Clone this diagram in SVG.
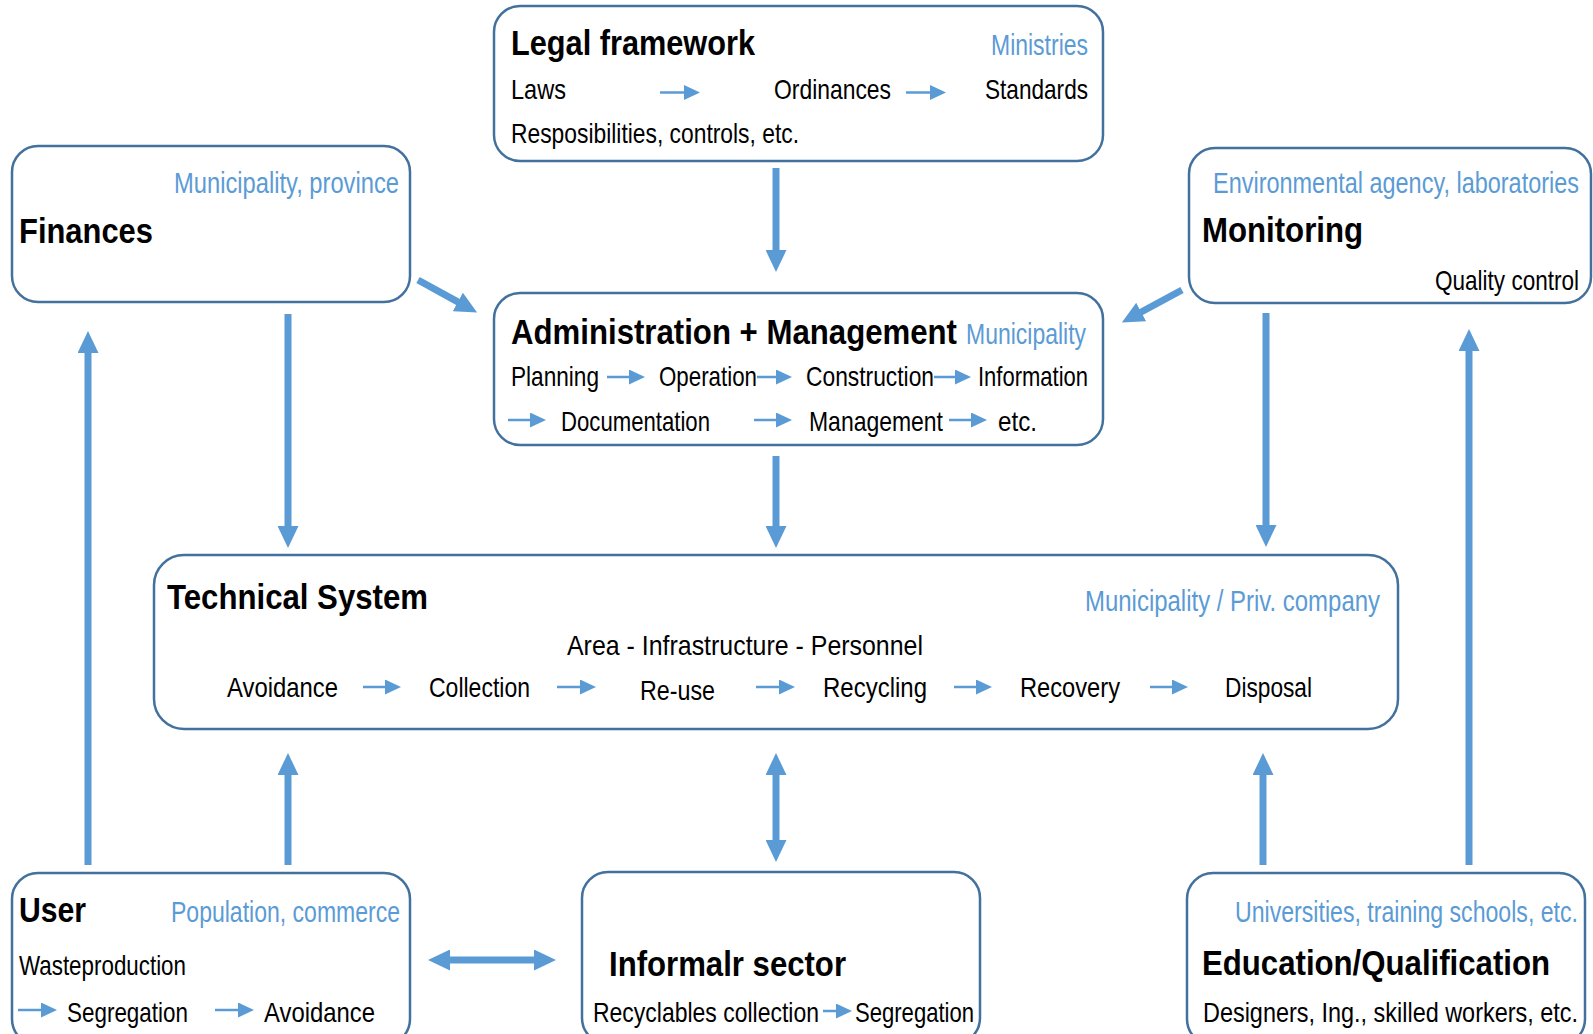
<svg xmlns="http://www.w3.org/2000/svg" width="1593" height="1034" viewBox="0 0 1593 1034">
<style>
.box{fill:#fff;stroke:#41719C;stroke-width:2.5}
.t{font-family:"Liberation Sans",Arial,sans-serif;font-weight:bold;font-size:35px;fill:#000}
.b{font-family:"Liberation Sans",Arial,sans-serif;font-size:28px;fill:#000}
.o{font-family:"Liberation Sans",Arial,sans-serif;font-size:29px;fill:#5B9BD5}
.e{text-anchor:end}
.c{stroke:#5B9BD5;stroke-width:7;fill:none}
.s{stroke:#5B9BD5;stroke-width:2.5;fill:none}
</style>
<defs>
<marker id="ah" viewBox="0 0 22 21" refX="1" refY="10.5" markerWidth="22" markerHeight="21" markerUnits="userSpaceOnUse" orient="auto-start-reverse">
<path d="M0,0 L22,10.5 L0,21 Z" fill="#5B9BD5"/>
</marker>
<marker id="sa" viewBox="0 0 16 15" refX="1" refY="7.5" markerWidth="16" markerHeight="15" markerUnits="userSpaceOnUse" orient="auto">
<path d="M0,0 L16,7.5 L0,15 Z" fill="#5B9BD5"/>
</marker>
</defs>
<rect width="1593" height="1034" fill="#fff"/>

<g id="connectors">
<line class="c" x1="776" y1="168" x2="776" y2="251" marker-end="url(#ah)"/>
<line class="c" x1="418" y1="280" x2="458.7" y2="302.4" marker-end="url(#ah)"/>
<line class="c" x1="1182" y1="290" x2="1140.3" y2="312.5" marker-end="url(#ah)"/>
<line class="c" x1="288" y1="314" x2="288" y2="527" marker-end="url(#ah)"/>
<line class="c" x1="776" y1="456" x2="776" y2="527" marker-end="url(#ah)"/>
<line class="c" x1="1266" y1="313" x2="1266" y2="526" marker-end="url(#ah)"/>
<line class="c" x1="88" y1="865" x2="88" y2="352" marker-end="url(#ah)"/>
<line class="c" x1="288" y1="865" x2="288" y2="774" marker-end="url(#ah)"/>
<line class="c" x1="776" y1="774" x2="776" y2="841" marker-start="url(#ah)" marker-end="url(#ah)"/>
<line class="c" x1="1263" y1="865" x2="1263" y2="774" marker-end="url(#ah)"/>
<line class="c" x1="1469" y1="865" x2="1469" y2="350" marker-end="url(#ah)"/>
<line class="c" x1="449" y1="960" x2="535" y2="960" marker-start="url(#ah)" marker-end="url(#ah)"/>
</g>

<g id="legal">
<rect class="box" x="494" y="6" width="609" height="155" rx="26"/>
<text class="t" x="511" y="55" textLength="244" lengthAdjust="spacingAndGlyphs">Legal framework</text>
<text class="o e" x="1088" y="55" textLength="97" lengthAdjust="spacingAndGlyphs">Ministries</text>
<text class="b" x="511" y="99" textLength="55" lengthAdjust="spacingAndGlyphs">Laws</text>
<text class="b" x="774" y="99" textLength="117" lengthAdjust="spacingAndGlyphs">Ordinances</text>
<text class="b e" x="1088" y="99" textLength="103" lengthAdjust="spacingAndGlyphs">Standards</text>
<text class="b" x="511" y="143" textLength="288" lengthAdjust="spacingAndGlyphs">Resposibilities, controls, etc.</text>
<line class="s" x1="660" y1="92.5" x2="685" y2="92.5" marker-end="url(#sa)"/>
<line class="s" x1="906" y1="92.5" x2="931" y2="92.5" marker-end="url(#sa)"/>
</g>

<g id="finances">
<rect class="box" x="12" y="146" width="398" height="156" rx="26"/>
<text class="o e" x="399" y="193" textLength="225" lengthAdjust="spacingAndGlyphs">Municipality, province</text>
<text class="t" x="19" y="243" textLength="134" lengthAdjust="spacingAndGlyphs">Finances</text>
</g>

<g id="monitoring">
<rect class="box" x="1189" y="148" width="402" height="155" rx="26"/>
<text class="o e" x="1579" y="193" textLength="366" lengthAdjust="spacingAndGlyphs">Environmental agency,  laboratories</text>
<text class="t" x="1202" y="242" textLength="161" lengthAdjust="spacingAndGlyphs">Monitoring</text>
<text class="b e" x="1579" y="290" textLength="144" lengthAdjust="spacingAndGlyphs">Quality control</text>
</g>

<g id="admin">
<rect class="box" x="494" y="293" width="609" height="152" rx="26"/>
<text class="t" x="511" y="344" textLength="446" lengthAdjust="spacingAndGlyphs">Administration + Management</text>
<text class="o e" x="1086" y="344" textLength="120" lengthAdjust="spacingAndGlyphs">Municipality</text>
<text class="b" x="511" y="386" textLength="88" lengthAdjust="spacingAndGlyphs">Planning</text>
<text class="b" x="659" y="386" textLength="98" lengthAdjust="spacingAndGlyphs">Operation</text>
<text class="b" x="806" y="386" textLength="128" lengthAdjust="spacingAndGlyphs">Construction</text>
<text class="b e" x="1088" y="386" textLength="110" lengthAdjust="spacingAndGlyphs">Information</text>
<line class="s" x1="607" y1="377" x2="630" y2="377" marker-end="url(#sa)"/>
<line class="s" x1="757" y1="377" x2="777" y2="377" marker-end="url(#sa)"/>
<line class="s" x1="934" y1="377" x2="956" y2="377" marker-end="url(#sa)"/>
<text class="b" x="561" y="431" textLength="149" lengthAdjust="spacingAndGlyphs">Documentation</text>
<text class="b" x="809" y="431" textLength="134" lengthAdjust="spacingAndGlyphs">Management</text>
<text class="b" x="998" y="431" textLength="39" lengthAdjust="spacingAndGlyphs">etc.</text>
<line class="s" x1="508" y1="420" x2="531" y2="420" marker-end="url(#sa)"/>
<line class="s" x1="754" y1="420" x2="777" y2="420" marker-end="url(#sa)"/>
<line class="s" x1="949" y1="420" x2="972" y2="420" marker-end="url(#sa)"/>
</g>

<g id="technical">
<rect class="box" x="154" y="555" width="1244" height="174" rx="30"/>
<text class="t" x="167" y="609" textLength="261" lengthAdjust="spacingAndGlyphs">Technical System</text>
<text class="o e" x="1380" y="611" textLength="295" lengthAdjust="spacingAndGlyphs">Municipality / Priv. company</text>
<text class="b" x="567" y="655" textLength="356" lengthAdjust="spacingAndGlyphs">Area  -  Infrastructure  -  Personnel</text>
<text class="b" x="227" y="697" textLength="111" lengthAdjust="spacingAndGlyphs">Avoidance</text>
<text class="b" x="429" y="697" textLength="101" lengthAdjust="spacingAndGlyphs">Collection</text>
<text class="b" x="640" y="700" textLength="75" lengthAdjust="spacingAndGlyphs">Re-use</text>
<text class="b" x="823" y="697" textLength="104" lengthAdjust="spacingAndGlyphs">Recycling</text>
<text class="b" x="1020" y="697" textLength="100" lengthAdjust="spacingAndGlyphs">Recovery</text>
<text class="b" x="1225" y="697" textLength="87" lengthAdjust="spacingAndGlyphs">Disposal</text>
<line class="s" x1="363" y1="687" x2="386" y2="687" marker-end="url(#sa)"/>
<line class="s" x1="557" y1="687" x2="581" y2="687" marker-end="url(#sa)"/>
<line class="s" x1="756" y1="687" x2="780" y2="687" marker-end="url(#sa)"/>
<line class="s" x1="954" y1="687" x2="977" y2="687" marker-end="url(#sa)"/>
<line class="s" x1="1150" y1="687" x2="1173" y2="687" marker-end="url(#sa)"/>
</g>

<g id="user">
<rect class="box" x="12" y="873" width="398" height="172" rx="26"/>
<text class="t" x="19" y="922" textLength="67" lengthAdjust="spacingAndGlyphs">User</text>
<text class="o e" x="400" y="922" textLength="229" lengthAdjust="spacingAndGlyphs">Population, commerce</text>
<text class="b" x="19" y="975" textLength="167" lengthAdjust="spacingAndGlyphs">Wasteproduction</text>
<text class="b" x="67" y="1022" textLength="121" lengthAdjust="spacingAndGlyphs">Segregation</text>
<text class="b" x="264" y="1022" textLength="111" lengthAdjust="spacingAndGlyphs">Avoidance</text>
<line class="s" x1="18" y1="1010" x2="42" y2="1010" marker-end="url(#sa)"/>
<line class="s" x1="215" y1="1010" x2="239" y2="1010" marker-end="url(#sa)"/>
</g>

<g id="informal">
<rect class="box" x="582" y="872" width="398" height="172" rx="26"/>
<text class="t" x="609" y="976" textLength="237" lengthAdjust="spacingAndGlyphs">Informalr sector</text>
<text class="b" x="593" y="1022" textLength="226" lengthAdjust="spacingAndGlyphs">Recyclables collection</text>
<text class="b e" x="974" y="1022" textLength="119" lengthAdjust="spacingAndGlyphs">Segregation</text>
<line class="s" x1="823" y1="1011" x2="837" y2="1011" marker-end="url(#sa)"/>
</g>

<g id="education">
<rect class="box" x="1187" y="873" width="398" height="172" rx="26"/>
<text class="o e" x="1578" y="922" textLength="343" lengthAdjust="spacingAndGlyphs">Universities, training schools, etc.</text>
<text class="t e" x="1550" y="975" textLength="348" lengthAdjust="spacingAndGlyphs">Education/Qualification</text>
<text class="b e" x="1578" y="1022" textLength="375" lengthAdjust="spacingAndGlyphs">Designers, Ing., skilled workers, etc.</text>
</g>
</svg>
